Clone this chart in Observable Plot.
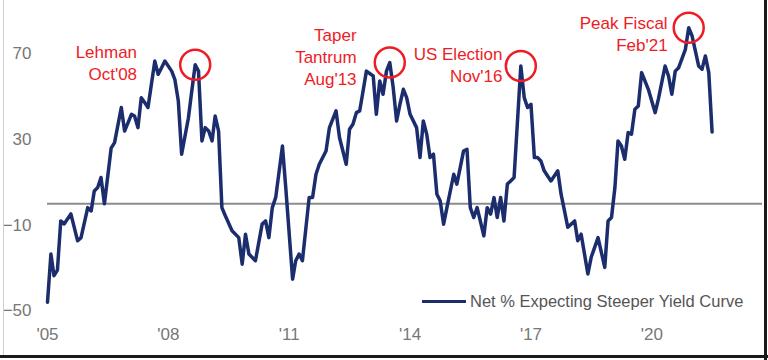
<!DOCTYPE html>
<html>
<head>
<meta charset="utf-8">
<script src="https://cdn.jsdelivr.net/npm/d3@7"></script>
<script src="https://cdn.jsdelivr.net/npm/@observablehq/plot@0.6"></script>
<style>
  html, body { margin: 0; padding: 0; background: #fff; }
  #wrap { position: relative; width: 768px; height: 360px; overflow: hidden; background: #fff; font-family: "Liberation Sans", Arial, sans-serif; }
  #chart svg { display: block; }
  .bl { position: absolute; left: 3px; top: 0; width: 1px; height: 356px; background: #d0d0d0; }
  .br { position: absolute; left: 764px; top: 0; width: 3px; height: 360px; background: #1a1a1a; }
  .bb { position: absolute; left: 0; top: 355px; width: 768px; height: 3px; background: #1a1a1a; }
  #legend { position: absolute; left: 422px; top: 292px; display: flex; align-items: center; font-size: 16.5px; color: #555; white-space: nowrap; }
  #legend .sw { width: 44px; height: 3.5px; background: #1c2d6e; margin-right: 4px; }
</style>
</head>
<body>
<div id="wrap">
  <div id="chart"></div>
  <div id="legend"><span class="sw"></span><span id="legendText"></span></div>
  <div class="bl"></div><div class="br"></div><div class="bb"></div>
</div>
<script>
// ---- Data ----
const months = [
"2005-01","2005-02","2005-03","2005-04","2005-05","2005-06","2005-08","2005-10","2005-11",
"2006-01","2006-02","2006-03","2006-04","2006-05","2006-06","2006-08","2006-09","2006-11","2006-12",
"2007-02","2007-03","2007-04","2007-05","2007-06","2007-07","2007-09","2007-10","2007-11","2007-12",
"2008-02","2008-03","2008-04","2008-05","2008-07","2008-08","2008-09","2008-10","2008-11","2008-12",
"2009-01","2009-02","2009-03","2009-04","2009-05","2009-06","2009-08","2009-10","2009-11","2009-12",
"2010-01","2010-03","2010-05","2010-06","2010-07","2010-08","2010-09","2010-11","2010-12",
"2011-02","2011-03","2011-04","2011-05","2011-07","2011-08","2011-09","2011-10","2011-12",
"2012-01","2012-03","2012-04","2012-06","2012-07","2012-08","2012-09","2012-10","2012-11","2012-12",
"2013-02","2013-03","2013-04","2013-05","2013-06","2013-07","2013-08","2013-09","2013-10","2013-11","2013-12",
"2014-01","2014-03","2014-04","2014-05","2014-06","2014-07","2014-08","2014-09","2014-10","2014-11","2014-12",
"2015-01","2015-02","2015-03","2015-04","2015-05","2015-06","2015-07","2015-08","2015-09","2015-11","2015-12",
"2016-01","2016-02","2016-03","2016-04","2016-05","2016-06","2016-07","2016-08","2016-10","2016-11","2016-12",
"2017-01","2017-02","2017-03","2017-04","2017-05","2017-07","2017-09","2017-10","2017-11","2017-12",
"2018-02","2018-03","2018-04","2018-06","2018-07","2018-09","2018-11","2018-12",
"2019-01","2019-02","2019-03","2019-04","2019-05","2019-06","2019-07","2019-08","2019-09","2019-10","2019-12",
"2020-02","2020-03","2020-05","2020-06","2020-07","2020-08","2020-09","2020-11","2020-12",
"2021-01","2021-03","2021-04","2021-05","2021-06","2021-07"
];
const netSteeper = [
-46,-23.5,-33.6,-31,-8,-9.4,-4.7,-17.3,-15.8,
-1.8,-3.3,6,7.6,12.3,0,26,28.6,45,34,
41.8,41,35.6,49.6,47.3,45,66.7,60.5,63.6,66.7,
62,58,48,23.2,40,52.7,65,62,29.4,35.6,
34,29.4,41,34,-1.8,-5.6,-12.6,-15.8,-28.2,-14.2,
-23.5,-26.6,-9.5,-8,-15.8,-1.8,3,27,7.6,
-35.2,-26.6,-23.5,-26.6,2.9,2.9,13.8,18.5,24.7,
35.6,43.4,31,18.5,34.8,37.2,42.6,43.4,52.7,62,
59.7,41.8,57.4,51.2,62,66,54.3,38.7,46.5,53.5,49.6,
41.8,35.6,21.6,38.7,32.5,21.6,23.2,4.5,1.4,-9.5,-1.8,
6,13.8,9.2,17,24.7,25.5,-1.8,-6.4,-1.8,-15,-1.8,
-4.8,2.9,-6.4,2.9,-8,9.2,10.7,12.3,64.4,49.6,45,
46.5,21.6,21.6,20,15.4,10.7,15.4,4.5,-3.3,-11,
-8,-17.3,-14.2,-32.8,-25,-15.8,-29.7,-8,
-6.4,7.6,29.4,27,20.8,33.3,32.5,44.2,45.7,61.3,53.5,
42.6,48.9,64.4,59.7,51.2,62,63.6,72.2,82.3,
78.4,64.4,62.9,69.1,61.3,33.6
];
const seriesName = "Net % Expecting Steeper Yield Curve";

// x-axis ticks and labels
const tickMonths = ["2005-01","2008-01","2011-01","2014-01","2017-01","2020-01"];
const tickLabels = ["'05","'08","'11","'14","'17","'20"];
const yTicks = [70, 30, -10, -50];
const xDomainMonths = ["2005-01", "2022-10"];
const yDomain = [-55, 95];

// Annotated events: peak month in the series, label text, and label anchor (date, value)
const eventMonths = ["2008-09", "2013-07", "2016-10", "2020-12"];
const eventLabels = ["Lehman\nOct'08", "Taper\nTantrum\nAug'13", "US Election\nNov'16", "Peak Fiscal\nFeb'21"];
const labelDates = ["2007-03-24", "2012-09-03", "2016-04-18", "2020-05-24"];
const labelValues = [66.3, 69.1, 65.3, 79.8];

// ---- Build ----
const parseM = d3.utcParse("%Y-%m");
const parseD = d3.utcParse("%Y-%m-%d");
const data = months.map((m, i) => ({date: parseM(m), value: netSteeper[i]}));
const valueByMonth = new Map(months.map((m, i) => [m, netSteeper[i]]));
const events = eventMonths.map((m, i) => ({date: parseM(m), value: valueByMonth.get(m)}));
const labels = eventLabels.map((t, i) => ({date: parseD(labelDates[i]), value: labelValues[i], text: t}));
const tickDates = tickMonths.map(parseM);
const labelFor = new Map(tickDates.map((d, i) => [+d, tickLabels[i]]));

const navy = "#1c2d6e";
const red = "#ee1c25";

const chart = Plot.plot({
  width: 768,
  height: 360,
  marginLeft: 47,
  marginRight: 6,
  marginTop: 0,
  marginBottom: 39,
  style: {background: "transparent", fontFamily: "'Liberation Sans', Arial, sans-serif", overflow: "visible"},
  x: {type: "utc", domain: xDomainMonths.map(parseM), label: null},
  y: {domain: yDomain, label: null},
  marks: [
    Plot.axisX({ticks: tickDates, tickFormat: d => labelFor.get(+d), tickSize: 0, tickPadding: 6, fontSize: 17, fill: "#777", label: null}),
    Plot.axisY({ticks: yTicks, tickSize: 0, tickPadding: 16, fontSize: 17, fill: "#777", label: null}),
    Plot.ruleY([0], {stroke: "#8c8c8c", strokeWidth: 2}),
    Plot.line(data, {x: "date", y: "value", stroke: navy, strokeWidth: 3.5, strokeLinejoin: "round"}),
    Plot.dot(events, {x: "date", y: "value", r: 15, stroke: red, strokeWidth: 2.5, fill: "none"}),
    Plot.text(labels, {x: "date", y: "value", text: "text", textAnchor: "end", lineAnchor: "middle", lineHeight: 1.3, fontSize: 17, fill: red})
  ]
});
document.getElementById("chart").appendChild(chart);
document.getElementById("legendText").textContent = seriesName;
</script>
</body>
</html>
